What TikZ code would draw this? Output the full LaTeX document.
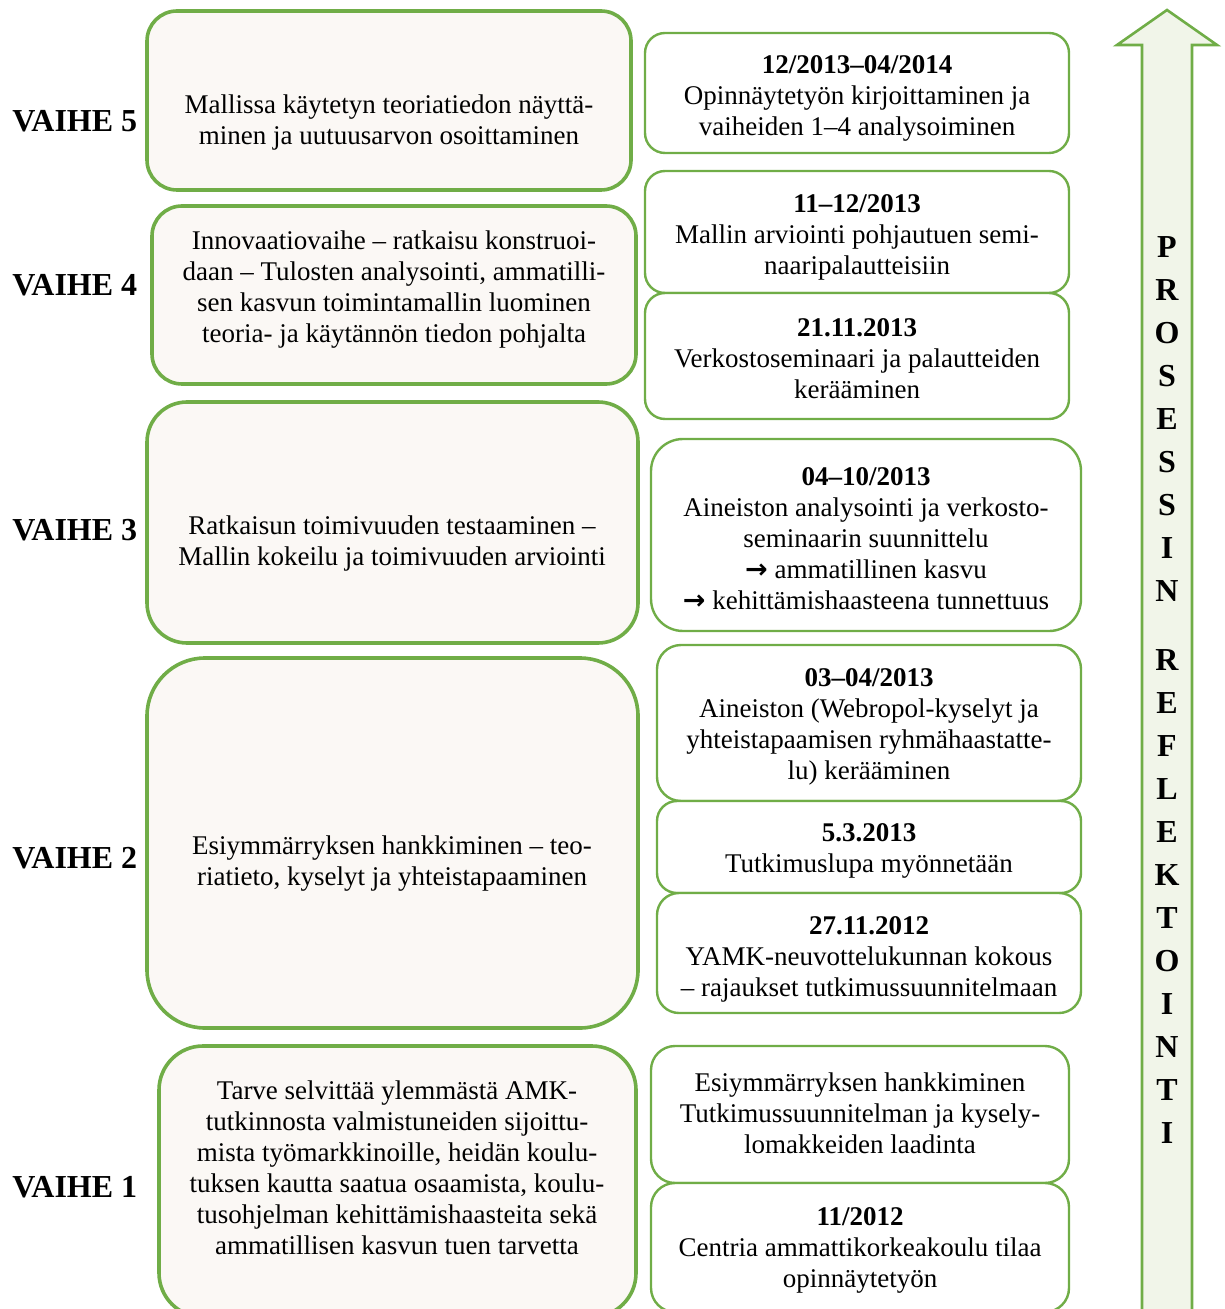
\documentclass[tikz,border=0pt]{standalone}
\usepackage{fontspec}
\setmainfont{Liberation Serif}
\newfontfamily\arrowfont{DejaVu Sans}
\usepackage{tikz}
\usetikzlibrary{fit}

\definecolor{vgreen}{HTML}{70AD47}
\definecolor{vbeige}{HTML}{FBF8F5}
\definecolor{vpale}{HTML}{F1F5E9}

\newcommand{\bodysize}{\fontsize{13.5}{15.5}\selectfont}
\newcommand{\then}{{\arrowfont\bfseries →}}

\tikzset{
    phasebox/.style={draw=vgreen, line width=1.8pt, fill=vbeige, inner sep=0pt},
    datebox/.style={draw=vgreen, line width=1.2pt, fill=white, inner sep=0pt},
    boxtext/.style={align=center, inner sep=0pt, font=\bodysize},
    phaselabel/.style={anchor=west, inner sep=0pt, font=\fontsize{16}{18}\selectfont\bfseries}
}

\begin{document}
\begin{tikzpicture}[x=0.5pt, y=-0.5pt]
    \useasboundingbox (0, 0) rectangle (1224, 1309);
    \clip (0, 0) rectangle (1224, 1309);
    % phases
    \node[phasebox, rounded corners=15pt, fit={(147, 11) (631, 190)}] (v5) {};
    \node[phasebox, rounded corners=15pt, fit={(152, 206) (636, 384)}] (v4) {};
    \node[phasebox, rounded corners=20pt, fit={(147, 402) (638, 643)}] (v3) {};
    \node[phasebox, rounded corners=29pt, fit={(147, 658) (638, 1028)}] (v2) {};
    \node[phasebox, rounded corners=22pt, fit={(159, 1046) (636, 1317)}] (v1) {};
    \node[boxtext] (t5) at (389, 123) {Mallissa käytetyn teoriatiedon näyttä-\\minen ja uutuusarvon osoittaminen};
    \node[boxtext] (t4) at (394, 289.5) {Innovaatiovaihe – ratkaisu konstruoi-\\daan – Tulosten analysointi, ammatilli-\\sen kasvun toimintamallin luominen\\teoria- ja käytännön tiedon pohjalta};
    \node[boxtext] (t3) at (392, 543.5) {Ratkaisun toimivuuden testaaminen –\\Mallin kokeilu ja toimivuuden arviointi};
    \node[boxtext] (t2) at (392, 863.5) {Esiymmärryksen hankkiminen – teo-\\riatieto, kyselyt ja yhteistapaaminen};
    \node[boxtext] (t1) at (397, 1167.5) {Tarve selvittää ylemmästä AMK-\\tutkinnosta valmistuneiden sijoittu-\\mista työmarkkinoille, heidän koulu-\\tuksen kautta saatua osaamista, koulu-\\tusohjelman kehittämishaasteita sekä\\ammatillisen kasvun tuen tarvetta};
    \node[phaselabel] (l5) at (12, 121) {VAIHE 5};
    \node[phaselabel] (l4) at (12, 285) {VAIHE 4};
    \node[phaselabel] (l3) at (12, 530) {VAIHE 3};
    \node[phaselabel] (l2) at (12, 858) {VAIHE 2};
    \node[phaselabel] (l1) at (12, 1187) {VAIHE 1};
    % dates
    \node[datebox, rounded corners=10pt, fit={(645, 33) (1069, 153)}] (d9) {};
    \node[datebox, rounded corners=10pt, fit={(645, 171) (1069, 293)}] (d8) {};
    \node[datebox, rounded corners=10pt, fit={(645, 293) (1069, 419)}] (d7) {};
    \node[datebox, rounded corners=16pt, fit={(651, 439) (1081, 631)}] (d6) {};
    \node[datebox, rounded corners=12pt, fit={(657, 645) (1081, 801)}] (d5) {};
    \node[datebox, rounded corners=10pt, fit={(657, 801) (1081, 893)}] (d4) {};
    \node[datebox, rounded corners=11pt, fit={(657, 893) (1081, 1013)}] (d3) {};
    \node[datebox, rounded corners=12pt, fit={(651, 1046) (1069, 1183)}] (d2) {};
    \node[datebox, rounded corners=12pt, fit={(651, 1183) (1069, 1312)}] (d1) {};
    \node[boxtext] (e9) at (857, 98.5) {\textbf{12/2013–04/2014}\\Opinnäytetyön kirjoittaminen ja\\vaiheiden 1–4 analysoiminen};
    \node[boxtext] (e8) at (857, 237) {\textbf{11–12/2013}\\Mallin arviointi pohjautuen semi-\\naaripalautteisiin};
    \node[boxtext] (e7) at (857, 359) {\textbf{21.11.2013}\\Verkostoseminaari ja palautteiden\\kerääminen};
    \node[boxtext] (e6) at (866, 539) {\textbf{04–10/2013}\\Aineiston analysointi ja verkosto-\\seminaarin suunnittelu\\\then{} ammatillinen kasvu\\\then{} kehittämishaasteena tunnettuus};
    \node[boxtext] (e5) at (869, 726.5) {\textbf{03–04/2013}\\Aineiston (Webropol-kyselyt ja\\yhteistapaamisen ryhmähaastatte-\\lu) kerääminen};
    \node[boxtext] (e4) at (869, 850.5) {\textbf{5.3.2013}\\Tutkimuslupa myönnetään};
    \node[boxtext] (e3) at (869, 959) {\textbf{27.11.2012}\\YAMK-neuvottelukunnan kokous\\– rajaukset tutkimussuunnitelmaan};
    \node[boxtext] (e2) at (860, 1113) {Esiymmärryksen hankkiminen\\Tutkimussuunnitelman ja kysely-\\lomakkeiden laadinta};
    \node[boxtext] (e1) at (860, 1250) {\textbf{11/2012}\\Centria ammattikorkeakoulu tilaa\\opinnäytetyön};
    % reflection arrow
    \draw[draw=vgreen, line width=1.3pt, fill=vpale] (1142, 1330) -- (1142, 45) -- (1117, 45) -- (1167, 10) -- (1217, 45) -- (1192, 45) -- (1192, 1330) -- cycle;
    \node[align=center, inner sep=0pt, font=\fontsize{16}{21.5}\selectfont\bfseries] (refl) at (1167, 690) {P\\R\\O\\S\\E\\S\\S\\I\\N\\[13pt]R\\E\\F\\L\\E\\K\\T\\O\\I\\N\\T\\I};
\end{tikzpicture}
\end{document}
